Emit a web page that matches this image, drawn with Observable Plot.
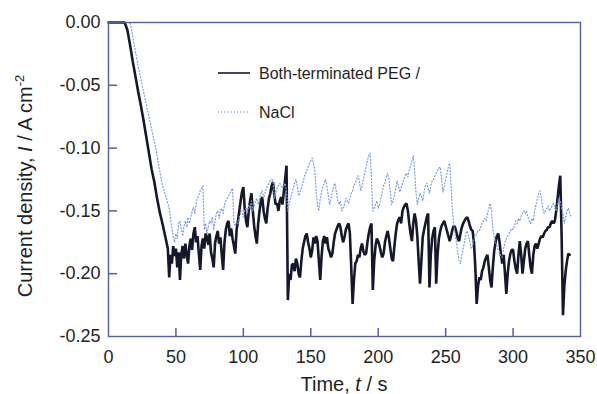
<!DOCTYPE html>
<html><head><meta charset="utf-8">
<script src="https://cdn.jsdelivr.net/npm/d3@7"></script>
<script src="https://cdn.jsdelivr.net/npm/@observablehq/plot@0.6"></script>
<style>body{margin:0;background:#fff;}</style>
</head><body><div id="chart"></div>
<script>
const xTicks = [0, 50, 100, 150, 200, 250, 300, 350];
const yTicks = [0, -0.05, -0.10, -0.15, -0.20, -0.25];
const seriesNames = ["Both-terminated PEG /", "NaCl"];

// Both-terminated PEG: initial decay (irregular times) then 1 s samples from t = 45 s
const pegHeadTime = [0, 12, 14, 16, 18, 20, 22, 24, 26, 28, 30, 32, 34, 36, 38, 40, 42, 44];
const pegHeadCurrent = [0, 0, -0.006, -0.018, -0.031, -0.043, -0.055, -0.066, -0.078, -0.091, -0.104, -0.117, -0.127, -0.140, -0.151, -0.160, -0.170, -0.180];
const pegSampleStart = 45;
const pegCurrent = [
 -0.203,-0.185,-0.192,-0.178,-0.186,-0.180,-0.195,-0.183,-0.205,-0.184,
 -0.178,-0.188,-0.176,-0.185,-0.192,-0.178,-0.172,-0.181,-0.168,-0.163,
 -0.175,-0.170,-0.184,-0.197,-0.178,-0.172,-0.180,-0.168,-0.171,-0.177,
 -0.168,-0.183,-0.188,-0.195,-0.176,-0.170,-0.166,-0.176,-0.171,-0.185,
 -0.197,-0.175,-0.165,-0.160,-0.158,-0.170,-0.164,-0.172,-0.178,-0.184,
 -0.165,-0.158,-0.150,-0.142,-0.135,-0.131,-0.148,-0.158,-0.163,-0.150,
 -0.142,-0.136,-0.150,-0.162,-0.170,-0.176,-0.160,-0.150,-0.142,-0.139,
 -0.150,-0.156,-0.160,-0.148,-0.140,-0.136,-0.130,-0.127,-0.138,-0.145,
 -0.144,-0.150,-0.142,-0.139,-0.145,-0.135,-0.125,-0.114,-0.221,-0.200,
 -0.205,-0.193,-0.192,-0.198,-0.188,-0.192,-0.200,-0.203,-0.190,-0.180,
 -0.175,-0.170,-0.168,-0.175,-0.180,-0.187,-0.182,-0.171,-0.176,-0.170,
 -0.174,-0.190,-0.205,-0.186,-0.174,-0.170,-0.176,-0.171,-0.180,-0.183,
 -0.187,-0.184,-0.175,-0.168,-0.165,-0.162,-0.160,-0.163,-0.170,-0.175,
 -0.171,-0.165,-0.162,-0.160,-0.168,-0.195,-0.224,-0.205,-0.192,-0.190,
 -0.185,-0.187,-0.180,-0.176,-0.182,-0.185,-0.184,-0.175,-0.168,-0.163,
 -0.160,-0.213,-0.190,-0.178,-0.172,-0.174,-0.178,-0.183,-0.187,-0.184,
 -0.175,-0.170,-0.166,-0.172,-0.180,-0.188,-0.190,-0.178,-0.168,-0.160,
 -0.157,-0.155,-0.160,-0.150,-0.147,-0.145,-0.144,-0.150,-0.160,-0.168,
 -0.174,-0.160,-0.152,-0.158,-0.170,-0.190,-0.208,-0.190,-0.171,-0.165,
 -0.160,-0.155,-0.152,-0.211,-0.185,-0.172,-0.166,-0.163,-0.208,-0.185,
 -0.172,-0.166,-0.162,-0.160,-0.158,-0.162,-0.166,-0.170,-0.174,-0.170,
 -0.165,-0.162,-0.163,-0.167,-0.172,-0.174,-0.168,-0.163,-0.160,-0.158,
 -0.156,-0.155,-0.158,-0.162,-0.165,-0.166,-0.175,-0.195,-0.224,-0.210,
 -0.203,-0.205,-0.198,-0.195,-0.190,-0.187,-0.185,-0.195,-0.205,-0.211,
 -0.195,-0.182,-0.175,-0.170,-0.168,-0.175,-0.185,-0.192,-0.185,-0.200,
 -0.216,-0.200,-0.190,-0.184,-0.181,-0.181,-0.190,-0.196,-0.200,-0.185,
 -0.174,-0.185,-0.200,-0.190,-0.180,-0.176,-0.174,-0.185,-0.195,-0.200,
 -0.185,-0.178,-0.176,-0.180,-0.176,-0.172,-0.170,-0.171,-0.168,-0.166,
 -0.165,-0.163,-0.163,-0.160,-0.158,-0.160,-0.158,-0.150,-0.140,-0.130,
 -0.122,-0.170,-0.233,-0.210,-0.198,-0.190,-0.184,-0.185
];

// NaCl: flat start then 1 s samples from t = 17 s
const naclHeadTime = [0, 16];
const naclHeadCurrent = [0, 0];
const naclSampleStart = 17;
const naclCurrent = [
 -0.005,-0.011,-0.017,-0.023,-0.029,-0.035,-0.040,-0.045,-0.050,-0.055,
 -0.060,-0.065,-0.070,-0.075,-0.080,-0.085,-0.090,-0.095,-0.100,-0.106,
 -0.112,-0.118,-0.124,-0.130,-0.133,-0.137,-0.140,-0.144,-0.148,-0.156,
 -0.164,-0.170,-0.175,-0.168,-0.172,-0.160,-0.158,-0.165,-0.170,-0.162,
 -0.158,-0.163,-0.155,-0.160,-0.155,-0.150,-0.147,-0.152,-0.144,-0.140,
 -0.137,-0.134,-0.132,-0.130,-0.165,-0.160,-0.168,-0.163,-0.158,-0.160,
 -0.155,-0.165,-0.158,-0.152,-0.150,-0.156,-0.150,-0.148,-0.152,-0.145,
 -0.142,-0.140,-0.138,-0.136,-0.134,-0.132,-0.160,-0.162,-0.158,-0.160,
 -0.155,-0.152,-0.150,-0.155,-0.150,-0.148,-0.152,-0.145,-0.148,-0.142,
 -0.150,-0.146,-0.142,-0.140,-0.145,-0.140,-0.136,-0.134,-0.140,-0.136,
 -0.132,-0.130,-0.128,-0.126,-0.125,-0.126,-0.140,-0.135,-0.132,-0.130,
 -0.128,-0.130,-0.132,-0.130,-0.128,-0.135,-0.150,-0.145,-0.140,-0.136,
 -0.132,-0.128,-0.125,-0.130,-0.138,-0.135,-0.132,-0.128,-0.124,-0.120,
 -0.118,-0.115,-0.112,-0.110,-0.108,-0.112,-0.118,-0.135,-0.145,-0.150,
 -0.140,-0.135,-0.130,-0.128,-0.125,-0.130,-0.138,-0.145,-0.140,-0.135,
 -0.130,-0.128,-0.135,-0.142,-0.145,-0.142,-0.150,-0.148,-0.145,-0.140,
 -0.142,-0.144,-0.140,-0.136,-0.134,-0.130,-0.128,-0.125,-0.122,-0.126,
 -0.134,-0.130,-0.125,-0.120,-0.115,-0.110,-0.106,-0.104,-0.125,-0.150,
 -0.148,-0.145,-0.142,-0.148,-0.145,-0.140,-0.135,-0.130,-0.128,-0.122,
 -0.120,-0.125,-0.135,-0.145,-0.142,-0.138,-0.132,-0.126,-0.130,-0.135,
 -0.132,-0.128,-0.125,-0.122,-0.120,-0.123,-0.118,-0.114,-0.110,-0.106,
 -0.118,-0.135,-0.145,-0.140,-0.136,-0.138,-0.142,-0.135,-0.130,-0.128,
 -0.132,-0.136,-0.130,-0.126,-0.125,-0.122,-0.120,-0.118,-0.116,-0.115,
 -0.125,-0.135,-0.130,-0.125,-0.120,-0.115,-0.112,-0.130,-0.150,-0.160,
 -0.168,-0.175,-0.183,-0.190,-0.192,-0.185,-0.180,-0.175,-0.168,-0.166,
 -0.170,-0.175,-0.180,-0.178,-0.172,-0.170,-0.168,-0.166,-0.166,-0.163,
 -0.160,-0.158,-0.156,-0.158,-0.152,-0.148,-0.144,-0.150,-0.165,-0.170,
 -0.175,-0.178,-0.181,-0.183,-0.186,-0.187,-0.180,-0.175,-0.172,-0.170,
 -0.168,-0.166,-0.164,-0.165,-0.162,-0.158,-0.160,-0.156,-0.158,-0.154,
 -0.152,-0.150,-0.152,-0.150,-0.155,-0.158,-0.160,-0.156,-0.158,-0.150,
 -0.145,-0.140,-0.136,-0.134,-0.140,-0.148,-0.152,-0.150,-0.148,-0.146,
 -0.150,-0.148,-0.146,-0.144,-0.148,-0.150,-0.145,-0.140,-0.142,-0.148,
 -0.152,-0.160,-0.155,-0.150,-0.148,-0.152,-0.155
];

const pegData = pegHeadTime.map((t, i) => ({t, v: pegHeadCurrent[i]}))
  .concat(pegCurrent.map((v, i) => ({t: pegSampleStart + i, v})));
const naclData = naclHeadTime.map((t, i) => ({t, v: naclHeadCurrent[i]}))
  .concat(naclCurrent.map((v, i) => ({t: naclSampleStart + i, v})));

const axisColor = "#52609c";
const textColor = "#1f1f24";
const pegColor = "#17172c";
const naclColor = "#7a98e0";
const W = 597, H = 394, ML = 108, MR = 17, MT = 22, MB = 58;
const font = "'Liberation Sans', Arial, sans-serif";

const chart = Plot.plot({
  width: W, height: H,
  marginLeft: ML, marginRight: MR, marginTop: MT, marginBottom: MB,
  x: {domain: [0, 350]},
  y: {domain: [-0.25, 0]},
  style: {fontFamily: font, fontSize: "18px", color: textColor, background: "#fff", overflow: "visible"},
  marks: [
    Plot.line(pegData, {x: "t", y: "v", stroke: pegColor, strokeWidth: 2.6, strokeLinejoin: "miter"}),
    Plot.line(naclData, {x: "t", y: "v", stroke: naclColor, strokeWidth: 1.2, strokeDasharray: "1,2.2"}),
    Plot.frame({stroke: axisColor, strokeWidth: 1.4}),
    Plot.tickX(xTicks.slice(1, -1), {x: d => d, stroke: axisColor, strokeWidth: 1.5, insetTop: H - MT - MB - 8}),
    Plot.tickY(yTicks.slice(1, -1), {y: d => d, stroke: axisColor, strokeWidth: 1.5, insetRight: W - ML - MR - 9}),
    Plot.axisX(xTicks, {tickSize: 0, tickPadding: 14, label: null, tickFormat: d => String(d)}),
    Plot.axisY(yTicks, {tickSize: 0, tickPadding: 8, label: null, tickFormat: d => d.toFixed(2).replace("-0.00", "0.00")})
  ]
});

document.getElementById("chart").appendChild(chart);
const svg = d3.select(chart);

// x-axis title
const xt = svg.append("text").attr("x", (ML + W - MR) / 2).attr("y", 391)
  .attr("text-anchor", "middle").attr("font-family", font).attr("font-size", 20).attr("fill", textColor);
xt.append("tspan").text("Time, ");
xt.append("tspan").attr("font-style", "italic").text("t");
xt.append("tspan").text(" / s");

// y-axis title
const yt = svg.append("text").attr("transform", "translate(32,186) rotate(-90)")
  .attr("text-anchor", "middle").attr("font-family", font).attr("font-size", 20).attr("fill", textColor);
yt.append("tspan").text("Current density, ");
yt.append("tspan").attr("font-style", "italic").text("I");
yt.append("tspan").text(" / A cm");
yt.append("tspan").attr("font-size", 13).attr("dy", -8).text("-2");

// legend
const lg = svg.append("g").attr("font-family", font).attr("font-size", 16).attr("fill", textColor).attr("text-anchor", "start");
lg.append("line").attr("x1", 218).attr("x2", 250).attr("y1", 73).attr("y2", 73).attr("stroke", pegColor).attr("stroke-width", 1.6);
lg.append("text").attr("x", 259).attr("y", 79).text(seriesNames[0]);
lg.append("line").attr("x1", 218).attr("x2", 250).attr("y1", 112).attr("y2", 112).attr("stroke", naclColor).attr("stroke-width", 1.3).attr("stroke-dasharray", "1,2.2");
lg.append("text").attr("x", 259).attr("y", 118).text(seriesNames[1]);
</script>
</body></html>
